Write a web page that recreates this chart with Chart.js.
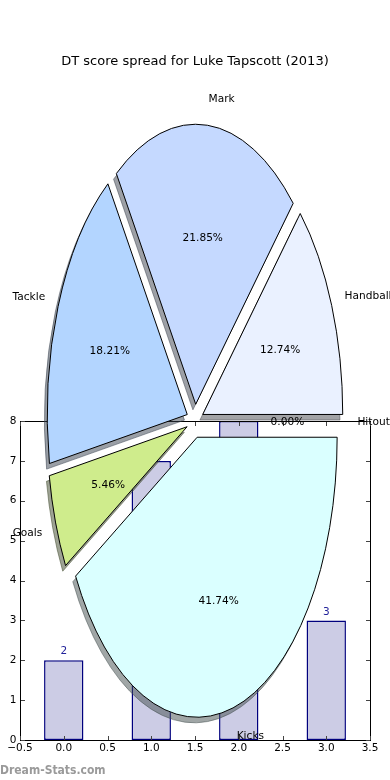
<!DOCTYPE html>
<html>
<head>
<meta charset="utf-8">
<script src="https://cdn.jsdelivr.net/npm/chart.js@4/dist/chart.umd.min.js"></script>
<style>
html,body{margin:0;padding:0;background:#fff;}
#wrap{position:relative;width:390px;height:780px;overflow:hidden;background:#fff;}
#wrap canvas{position:absolute;left:0;top:0;pointer-events:none;}
</style>
</head>
<body>
<div id="wrap">
  <canvas id="bars" width="390" height="780"></canvas>
  <canvas id="pieShadow" width="390" height="780"></canvas>
  <canvas id="pie" width="390" height="780"></canvas>
</div>
<script>
// ---------- data ----------
const titleText = 'DT score spread for Luke Tapscott (2013)';
const watermarkText = 'Dream-Stats.com';
const pieLabels = ['Handball', 'Mark', 'Tackle', 'Goals', 'Kicks', 'Hitout'];
const pieValues = [12.74, 21.85, 18.21, 5.46, 41.74, 0];
const pieColors = ['#EAF1FF', '#C5D9FF', '#B3D5FF', '#CFEC8C', '#DAFFFF', '#FFE4E1'];
const barPositions = [0, 1, 2, 3];
const barValues = [2, 7, 8, 3];

// ---------- styling / geometry ----------
const FONT = '"DejaVu Sans", "Liberation Sans", sans-serif';
const PIE_CX = 195, PIE_CY = 421, PIE_R = 140, PIE_K = 2.0;
const EXPLODE = 0.06, LABEL_DIST = 1.1, PCT_DIST = 0.6;
const SHADOW_DX = -2.8, SHADOW_DY = 5.6;
const HALF = 185;
const TEXT_DY = 1.5;

function shade(hex) {
  const n = parseInt(hex.slice(1), 16);
  const r = Math.round(((n >> 16) & 255) * 0.3), g = Math.round(((n >> 8) & 255) * 0.3), b = Math.round((n & 255) * 0.3);
  return `rgba(${r},${g},${b},0.5)`;
}

// ---------- bar chart ----------
const framePlugin = {
  id: 'frame',
  afterDatasetsDraw(chart) {
    const ctx = chart.ctx;
    const meta = chart.getDatasetMeta(0);
    ctx.save();
    ctx.font = '10.5px ' + FONT;
    ctx.fillStyle = '#22229a';
    ctx.textAlign = 'center';
    ctx.textBaseline = 'middle';
    meta.data.forEach((bar, i) => {
      ctx.fillText(String(barValues[i]), bar.x, bar.y - 8.5);
    });
    ctx.restore();
  },
  afterDraw(chart) {
    const ctx = chart.ctx;
    const a = chart.chartArea;
    const xs = chart.scales.x, ys = chart.scales.y;
    ctx.save();
    ctx.strokeStyle = '#000';
    ctx.lineWidth = 1;
    ctx.strokeRect(a.left + 0.5, a.top + 0.5, a.right - a.left, a.bottom - a.top);
    ctx.strokeStyle = '#444';
    ctx.beginPath();
    xs.ticks.forEach(t => {
      const px = Math.round(xs.getPixelForValue(t.value)) + 0.5;
      ctx.moveTo(px, a.bottom); ctx.lineTo(px, a.bottom - 4);
      ctx.moveTo(px, a.top + 1); ctx.lineTo(px, a.top + 5);
    });
    ys.ticks.forEach(t => {
      const py = Math.round(ys.getPixelForValue(t.value)) + 0.5;
      ctx.moveTo(a.left + 1, py); ctx.lineTo(a.left + 5, py);
      ctx.moveTo(a.right, py); ctx.lineTo(a.right - 4, py);
    });
    ctx.stroke();
    ctx.restore();
  }
};

new Chart(document.getElementById('bars'), {
  type: 'bar',
  data: {
    datasets: [{
      data: barPositions.map((x, i) => ({ x: x, y: barValues[i] })),
      backgroundColor: '#CCCCE5',
      borderColor: '#00007e',
      borderWidth: 1.5,
      borderSkipped: false,
      categoryPercentage: 1,
      barPercentage: 0.9
    }]
  },
  options: {
    responsive: false,
    animation: false,
    events: [],
    layout: { padding: { left: 0, top: 421, right: 20, bottom: 0 } },
    plugins: { legend: { display: false }, tooltip: { enabled: false } },
    scales: {
      x: {
        type: 'linear', min: -0.5, max: 3.5, offset: false,
        grid: { display: false, drawTicks: false },
        border: { display: false },
        ticks: {
          stepSize: 0.5, padding: 2, color: '#000', autoSkip: false, maxRotation: 0,
          font: { family: FONT, size: 10.5 },
          callback: v => v.toFixed(1).replace('-', '\u2212')
        },
        afterFit: s => { s.height = 40; }
      },
      y: {
        min: 0, max: 8,
        grid: { display: false, drawTicks: false },
        border: { display: false },
        ticks: { stepSize: 1, padding: 3.5, color: '#000', font: { family: FONT, size: 10.5 } },
        afterFit: s => { s.width = 20; }
      }
    }
  },
  plugins: [framePlugin]
});

// ---------- pie charts ----------
const ellipsePlugin = {
  id: 'ellipse',
  beforeDatasetsDraw(chart) {
    const ctx = chart.ctx;
    const meta = chart.getDatasetMeta(0);
    const base = ctx.getTransform();
    ctx.save();
    const origStroke = CanvasRenderingContext2D.prototype.stroke;
    ctx.stroke = function () { this.save(); this.setTransform(base); origStroke.call(this); this.restore(); };
    meta.data.forEach(arc => {
      const p = arc.getProps(['x', 'y', 'startAngle', 'endAngle', 'outerRadius']);
      const mid = (p.startAngle + p.endAngle) / 2;
      ctx.save();
      ctx.translate(p.x, p.y);
      ctx.scale(1, -PIE_K);
      ctx.translate(-p.x, -p.y);
      ctx.translate(Math.cos(mid) * EXPLODE * p.outerRadius, Math.sin(mid) * EXPLODE * p.outerRadius);
      arc.draw(ctx, chart.chartArea);
      ctx.restore();
    });
    delete ctx.stroke;
    ctx.restore();
    return false;
  }
};

const labelPlugin = {
  id: 'pieLabels',
  afterDraw(chart) {
    const ctx = chart.ctx;
    const meta = chart.getDatasetMeta(0);
    const total = pieValues.reduce((s, v) => s + v, 0);
    ctx.save();
    ctx.fillStyle = '#000';
    ctx.textBaseline = 'middle';
    ctx.font = '10.6px ' + FONT;
    meta.data.forEach((arc, i) => {
      const p = arc.getProps(['x', 'y', 'startAngle', 'endAngle', 'outerRadius']);
      const mid = (p.startAngle + p.endAngle) / 2;
      const c = Math.cos(mid), s = Math.sin(mid);
      const dl = (EXPLODE + LABEL_DIST) * p.outerRadius;
      const dp = (EXPLODE + PCT_DIST) * p.outerRadius;
      ctx.textAlign = c > 0 ? 'left' : 'right';
      ctx.fillText(pieLabels[i], p.x + dl * c, p.y - PIE_K * dl * s + TEXT_DY);
      ctx.textAlign = 'center';
      ctx.fillText((pieValues[i] / total * 100).toFixed(2) + '%', p.x + dp * c, p.y - PIE_K * dp * s + TEXT_DY);
    });
    ctx.font = '13px ' + FONT;
    ctx.textAlign = 'center';
    ctx.fillText(titleText, 195, 61.5);
    ctx.font = 'bold 12px "DejaVu Sans Condensed", ' + FONT;
    ctx.fillStyle = '#9a9a9a';
    ctx.textAlign = 'left';
    ctx.textBaseline = 'alphabetic';
    ctx.fillText(watermarkText, 0, 774);
    ctx.restore();
  }
};

function makePie(id, cx, cy, colors, borders, extra) {
  return new Chart(document.getElementById(id), {
    type: 'pie',
    data: {
      labels: pieLabels,
      datasets: [{
        data: pieValues,
        backgroundColor: colors,
        borderColor: borders,
        borderWidth: 1,
        radius: PIE_R
      }]
    },
    options: {
      responsive: false,
      animation: false,
      events: [],
      rotation: 90,
      radius: PIE_R,
      layout: { padding: { left: cx - HALF, right: 390 - (cx + HALF), top: cy - HALF, bottom: 780 - (cy + HALF) } },
      plugins: { legend: { display: false }, tooltip: { enabled: false } }
    },
    plugins: extra
  });
}

const shadowColors = pieColors.map(shade);
makePie('pieShadow', PIE_CX + SHADOW_DX, PIE_CY + SHADOW_DY, shadowColors, shadowColors, [ellipsePlugin]);
makePie('pie', PIE_CX, PIE_CY, pieColors, pieColors.map(() => '#000'), [ellipsePlugin, labelPlugin]);
</script>
</body>
</html>
